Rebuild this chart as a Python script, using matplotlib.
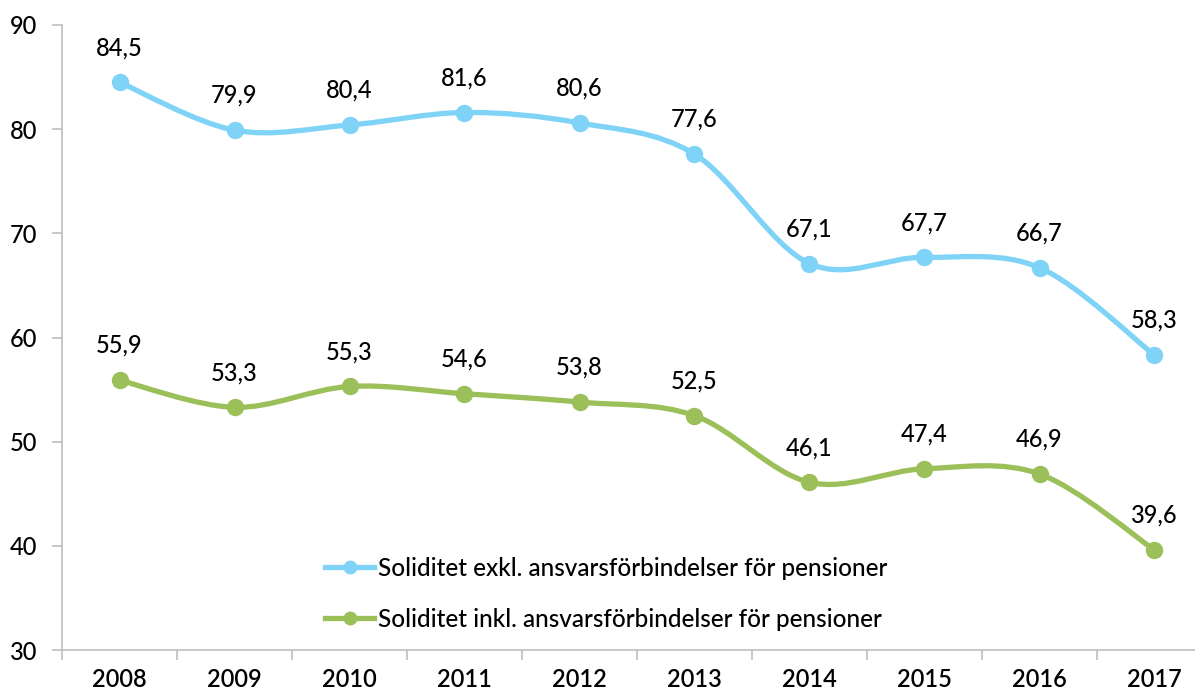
import numpy as np
import matplotlib.pyplot as plt
from matplotlib.path import Path
from matplotlib.patches import PathPatch
from matplotlib.lines import Line2D

years = ['2008', '2009', '2010', '2011', '2012', '2013', '2014', '2015', '2016', '2017']
exkl = [84.5, 79.9, 80.4, 81.6, 80.6, 77.6, 67.1, 67.7, 66.7, 58.3]
inkl = [55.9, 53.3, 55.3, 54.6, 53.8, 52.5, 46.1, 47.4, 46.9, 39.6]
labels = ['Soliditet exkl. ansvarsförbindelser för pensioner',
          'Soliditet inkl. ansvarsförbindelser för pensioner']

blue = '#7FD3F7'
green = '#9BBF59'
grey = '#BFBFBF'

plt.rcParams['font.family'] = ['Lato', 'DejaVu Sans']


def smooth_path(x, y):
    # bezier smoothing through the points (same idea as spreadsheet "smoothed line")
    x = np.asarray(x, float)
    y = np.asarray(y, float)
    pts = np.column_stack([x, y])
    verts = [pts[0]]
    codes = [Path.MOVETO]
    n = len(pts)
    for i in range(n - 1):
        p0 = pts[i - 1] if i > 0 else pts[i]
        p1 = pts[i]
        p2 = pts[i + 1]
        p3 = pts[i + 2] if i + 2 < n else pts[i + 1]
        c1 = p1 + (p2 - p0) / 6.0
        c2 = p2 - (p3 - p1) / 6.0
        verts += [c1, c2, p2]
        codes += [Path.CURVE4] * 3
    return Path(verts, codes)


fig = plt.figure(figsize=(11.95, 6.95), dpi=100)
ax = fig.add_axes([62 / 1195, 45 / 695, 1150 / 1195, 625 / 695])

x = np.arange(len(years))
for vals, col in [(exkl, blue), (inkl, green)]:
    ax.add_patch(PathPatch(smooth_path(x, vals), facecolor='none',
                           edgecolor=col, lw=3.8, capstyle='round', zorder=2))
    ax.plot(x, vals, 'o', color=col, ms=11.5, mec=col, zorder=3)
    for xi, v in zip(x, vals):
        ax.annotate(f'{v:.1f}'.replace('.', ','), (xi, v), xytext=(0, 25),
                    textcoords='offset points', ha='center', va='center',
                    fontsize=17, fontweight='medium')

ax.set_xlim(-0.5, len(years) - 0.5)
ax.set_ylim(30, 90)
ax.set_yticks(range(30, 91, 10))
ax.set_xticks(x)
ax.set_xticklabels(years, fontweight='semibold')
ax.set_xticks(np.arange(-0.5, len(years), 1), minor=True)
ax.tick_params(axis='x', which='major', length=0, pad=13, labelsize=17)
ax.tick_params(axis='x', which='minor', length=7, color=grey, width=1.2)
ax.tick_params(axis='y', length=7, color=grey, width=1.2, pad=11, labelsize=17)
for lab in ax.get_yticklabels():
    lab.set_fontweight('medium')
for s in ['top', 'right']:
    ax.spines[s].set_visible(False)
for s in ['left', 'bottom']:
    ax.spines[s].set_color(grey)
    ax.spines[s].set_linewidth(1.2)

handles = [Line2D([], [], color=blue, lw=3.8, marker='o', ms=9),
           Line2D([], [], color=green, lw=3.8, marker='o', ms=9)]
ax.legend(handles, labels, loc='center left', bbox_to_anchor=(0.21, 0.09),
          frameon=False, handlelength=2.0, handletextpad=0.15,
          labelspacing=1.15, prop={'size': 17.5, 'weight': 'medium'})

fig.savefig('out.png', dpi=100)
